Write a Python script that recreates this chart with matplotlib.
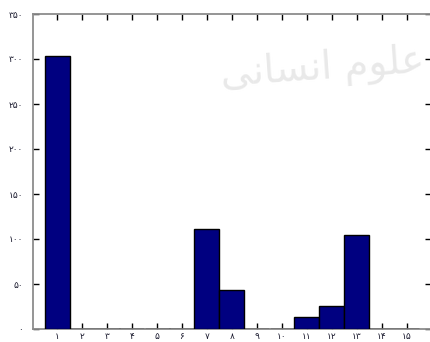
import matplotlib
matplotlib.use("Agg")
import matplotlib.pyplot as plt

# Frequency per class (1..15)
categories = list(range(1, 16))
counts = [303, 0, 0, 0, 0, 0, 111, 43, 0, 0, 13, 26, 105, 0, 0]
y_ticks = [0, 50, 100, 150, 200, 250, 300, 350]

FA_DIGITS = str.maketrans("0123456789", "۰۱۲۳۴۵۶۷۸۹")


def fa(n):
    return str(n).translate(FA_DIGITS)


fig = plt.figure(figsize=(4.30, 3.42), dpi=100)
ax = fig.add_axes([33 / 430, 13 / 342, 398 / 430, 315 / 342])

# faint background lettering (pre-shaped Arabic presentation forms, visual order)
fig.text(0.99, 0.80, "ﻰﻧﺎﺴﻧﺍ ﻡﻮﻠﻋ", fontsize=28, color="#e9e9e9",
         ha="right", va="center", rotation=4, family="DejaVu Sans", zorder=0)

ax.bar(categories, counts, width=1.0, color="#000080", edgecolor="black",
       linewidth=1.0, zorder=3)

ax.set_xlim(0.04, 15.96)
ax.set_ylim(0, 350)
ax.set_xticks(categories)
ax.set_xticklabels([fa(c) for c in categories])
ax.set_yticks(y_ticks)
ax.set_yticklabels([fa(v) for v in y_ticks])

ax.patch.set_alpha(0)
for s in ax.spines.values():
    s.set_color("#8c8c8c")
    s.set_linewidth(1.3)

ax.tick_params(axis="both", which="both", direction="in", length=4, width=1,
               color="black", labelsize=6.5, labelcolor="#1a1a2e",
               top=True, right=True)
ax.tick_params(axis="x", pad=2.5)
ax.tick_params(axis="y", pad=7)

fig.savefig("out.png", dpi=100)
